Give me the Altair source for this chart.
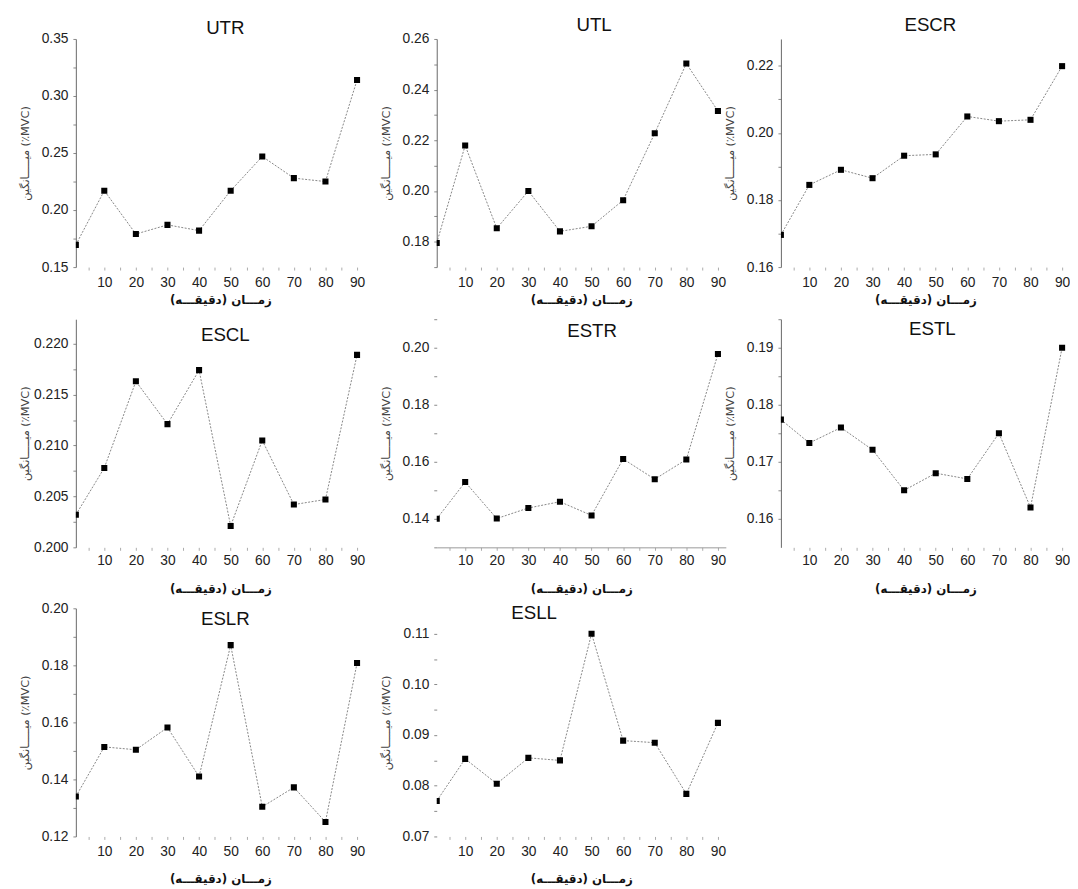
import json
import altair as alt
import pandas as pd

# ---------------- data ----------------
minutes = [1, 10, 20, 30, 40, 50, 60, 70, 80, 90]

utr = [0.1695, 0.217, 0.179, 0.187, 0.182, 0.217, 0.247, 0.228, 0.225, 0.314]
utl = [0.1795, 0.218, 0.1853, 0.200, 0.1841, 0.1861, 0.1964, 0.2228, 0.2503, 0.2316]
escr = [0.1696, 0.1845, 0.189, 0.1865, 0.1932, 0.1936, 0.2049, 0.2035, 0.2039, 0.2199]
escl = [0.2032, 0.2078, 0.2163, 0.2121, 0.2174, 0.2021, 0.2105, 0.2042, 0.2047, 0.2189]
estr = [0.1400, 0.1529, 0.1401, 0.1438, 0.1460, 0.1412, 0.1610, 0.1539, 0.1608, 0.1978]
estl = [0.1774, 0.1733, 0.1760, 0.1721, 0.1650, 0.1680, 0.1670, 0.1750, 0.1620, 0.1900]
eslr = [0.1340, 0.1514, 0.1504, 0.1582, 0.1410, 0.1871, 0.1304, 0.1372, 0.1251, 0.1808]
esll = [0.0770, 0.0853, 0.0804, 0.0855, 0.0850, 0.1100, 0.0889, 0.0885, 0.0784, 0.0924]

# y-axis tick labels (major) and unlabeled minor ticks
utr_major = [0.15, 0.2, 0.25, 0.3, 0.35]
utr_minor = [0.175, 0.225, 0.275, 0.325]
utl_major = [0.18, 0.2, 0.22, 0.24, 0.26]
utl_minor = [0.17, 0.19, 0.21, 0.23, 0.25]
escr_major = [0.16, 0.18, 0.2, 0.22]
escr_minor = [0.17, 0.19, 0.21]
escl_major = [0.2, 0.205, 0.21, 0.215, 0.22]
escl_minor = [0.2025, 0.2075, 0.2125, 0.2175]
estr_major = [0.14, 0.16, 0.18, 0.2]
estr_minor = [0.13, 0.15, 0.17, 0.19, 0.21]
estl_major = [0.16, 0.17, 0.18, 0.19]
estl_minor = [0.165, 0.175, 0.185, 0.195]
eslr_major = [0.12, 0.14, 0.16, 0.18, 0.2]
eslr_minor = [0.13, 0.15, 0.17, 0.19]
esll_major = [0.07, 0.08, 0.09, 0.1, 0.11]
esll_minor = [0.075, 0.085, 0.095, 0.105]

x_major = [10, 20, 30, 40, 50, 60, 70, 80, 90]
x_minor = [5, 15, 25, 35, 45, 55, 65, 75, 85]

Y_TITLE = "میـــــانگین (٪MVC)"
X_TITLE = "زمـــان (دقیقـــه)"

W, H = 294, 232
X_DOMAIN = [1, 92.5]
LABEL_FONT = "Liberation Sans"
FA_FONT = "DejaVu Sans"


def panel(name, vals, dom, majors, minors, fmt, dx, dy,
          y_line=True, x_line=False, x_title_pad=4, x_label_pad=4):
    df = pd.DataFrame({"t": minutes, "v": vals})
    label_expr = (
        f"indexof({json.dumps(majors)}, datum.value) >= 0 ? "
        f"format(datum.value, '{fmt}') : ''"
    )
    y = alt.Y(
        "v:Q",
        scale=alt.Scale(domain=dom, nice=False, zero=False),
        axis=alt.Axis(
            values=sorted(majors + minors),
            labelExpr=label_expr,
            title=Y_TITLE,
            titleFont=FA_FONT,
            titleFontSize=11.5,
            titleFontWeight="normal",
            titleColor="#444",
            titlePadding=2,
            minExtent=44,
            maxExtent=44,
            labelFont=LABEL_FONT,
            labelFontSize=14,
            labelColor="#222",
            labelPadding=5,
            labelFlush=False,
            tickSize=3,
            tickColor="#888",
            domain=y_line,
            domainColor="#666",
            grid=False,
        ),
    )
    x = alt.X(
        "t:Q",
        scale=alt.Scale(domain=X_DOMAIN, nice=False, zero=False),
        axis=alt.Axis(
            values=sorted(x_major + x_minor),
            labelExpr="datum.value % 10 == 0 ? datum.value : ''",
            title=X_TITLE,
            titleFont=FA_FONT,
            titleFontSize=12,
            titleFontWeight="bold",
            titleColor="#111",
            titlePadding=x_title_pad,
            labelFont=LABEL_FONT,
            labelFontSize=14,
            labelColor="#222",
            labelPadding=x_label_pad,
            labelFlush=False,
            tickSize=3,
            tickColor="#aaa",
            domain=x_line,
            domainColor="#999",
            grid=False,
        ),
    )
    base = alt.Chart(df)
    line = base.mark_line(
        strokeDash=[2, 1.5], strokeWidth=0.8, color="#666", clip=True
    ).encode(x=x, y=y)
    pts = base.mark_point(
        shape="square", filled=True, size=38, color="black", opacity=1, clip=True
    ).encode(x=x, y=y)
    return alt.layer(line, pts).properties(
        width=W,
        height=H,
        title=alt.TitleParams(
            name,
            dx=dx,
            dy=dy,
            offset=3,
            baseline="alphabetic",
            anchor="middle",
            font=LABEL_FONT,
            fontSize=19,
            fontWeight="normal",
            color="#111",
        ),
    )


p_utr = panel("UTR", utr, [0.15, 0.35], utr_major, utr_minor, ".2f", 5, 24,
              x_title_pad=5, x_label_pad=6)
p_utl = panel("UTL", utl, [0.17, 0.26], utl_major, utl_minor, ".2f", 13, 21,
              x_title_pad=5, x_label_pad=6)
p_escr = panel("ESCR", escr, [0.16, 0.228], escr_major, escr_minor, ".2f", 5, 14,
               x_title_pad=5, x_label_pad=6)

p_escl = panel("ESCL", escl, [0.2, 0.2224], escl_major, escl_minor, ".3f", 5, 44,
               x_title_pad=17, x_label_pad=3)
p_estr = panel("ESTR", estr, [0.13, 0.21], estr_major, estr_minor, ".2f", 11, 40.5,
               y_line=False, x_line=True, x_title_pad=17, x_label_pad=3)
p_estl = panel("ESTL", estl, [0.155, 0.195], estl_major, estl_minor, ".2f", 7, 38.5,
               x_title_pad=17, x_label_pad=3)

p_eslr = panel("ESLR", eslr, [0.12, 0.20], eslr_major, eslr_minor, ".2f", 5, 46,
               x_title_pad=16, x_label_pad=5)
p_esll = panel("ESLL", esll, [0.07, 0.115], esll_major, esll_minor, ".2f", -48, 33,
               y_line=False, x_title_pad=16, x_label_pad=5)


def row(a, b, c=None):
    inner = alt.hconcat(a, b, spacing=16)
    if c is None:
        return inner
    return alt.hconcat(inner, c, spacing=-1)


row1 = row(p_utr, p_utl, p_escr)
row2 = row(p_escl, p_estr, p_estl)
row3 = row(p_eslr, p_esll)

top = alt.vconcat(row1, row2, spacing=13)
chart = (
    alt.vconcat(top, row3, spacing=7)
    .properties(background="white", padding={"left": 12, "top": 1, "right": 0, "bottom": 0})
    .configure_view(stroke=None)
)

chart.save("out.html", embed_options={"renderer": "svg", "actions": False})
